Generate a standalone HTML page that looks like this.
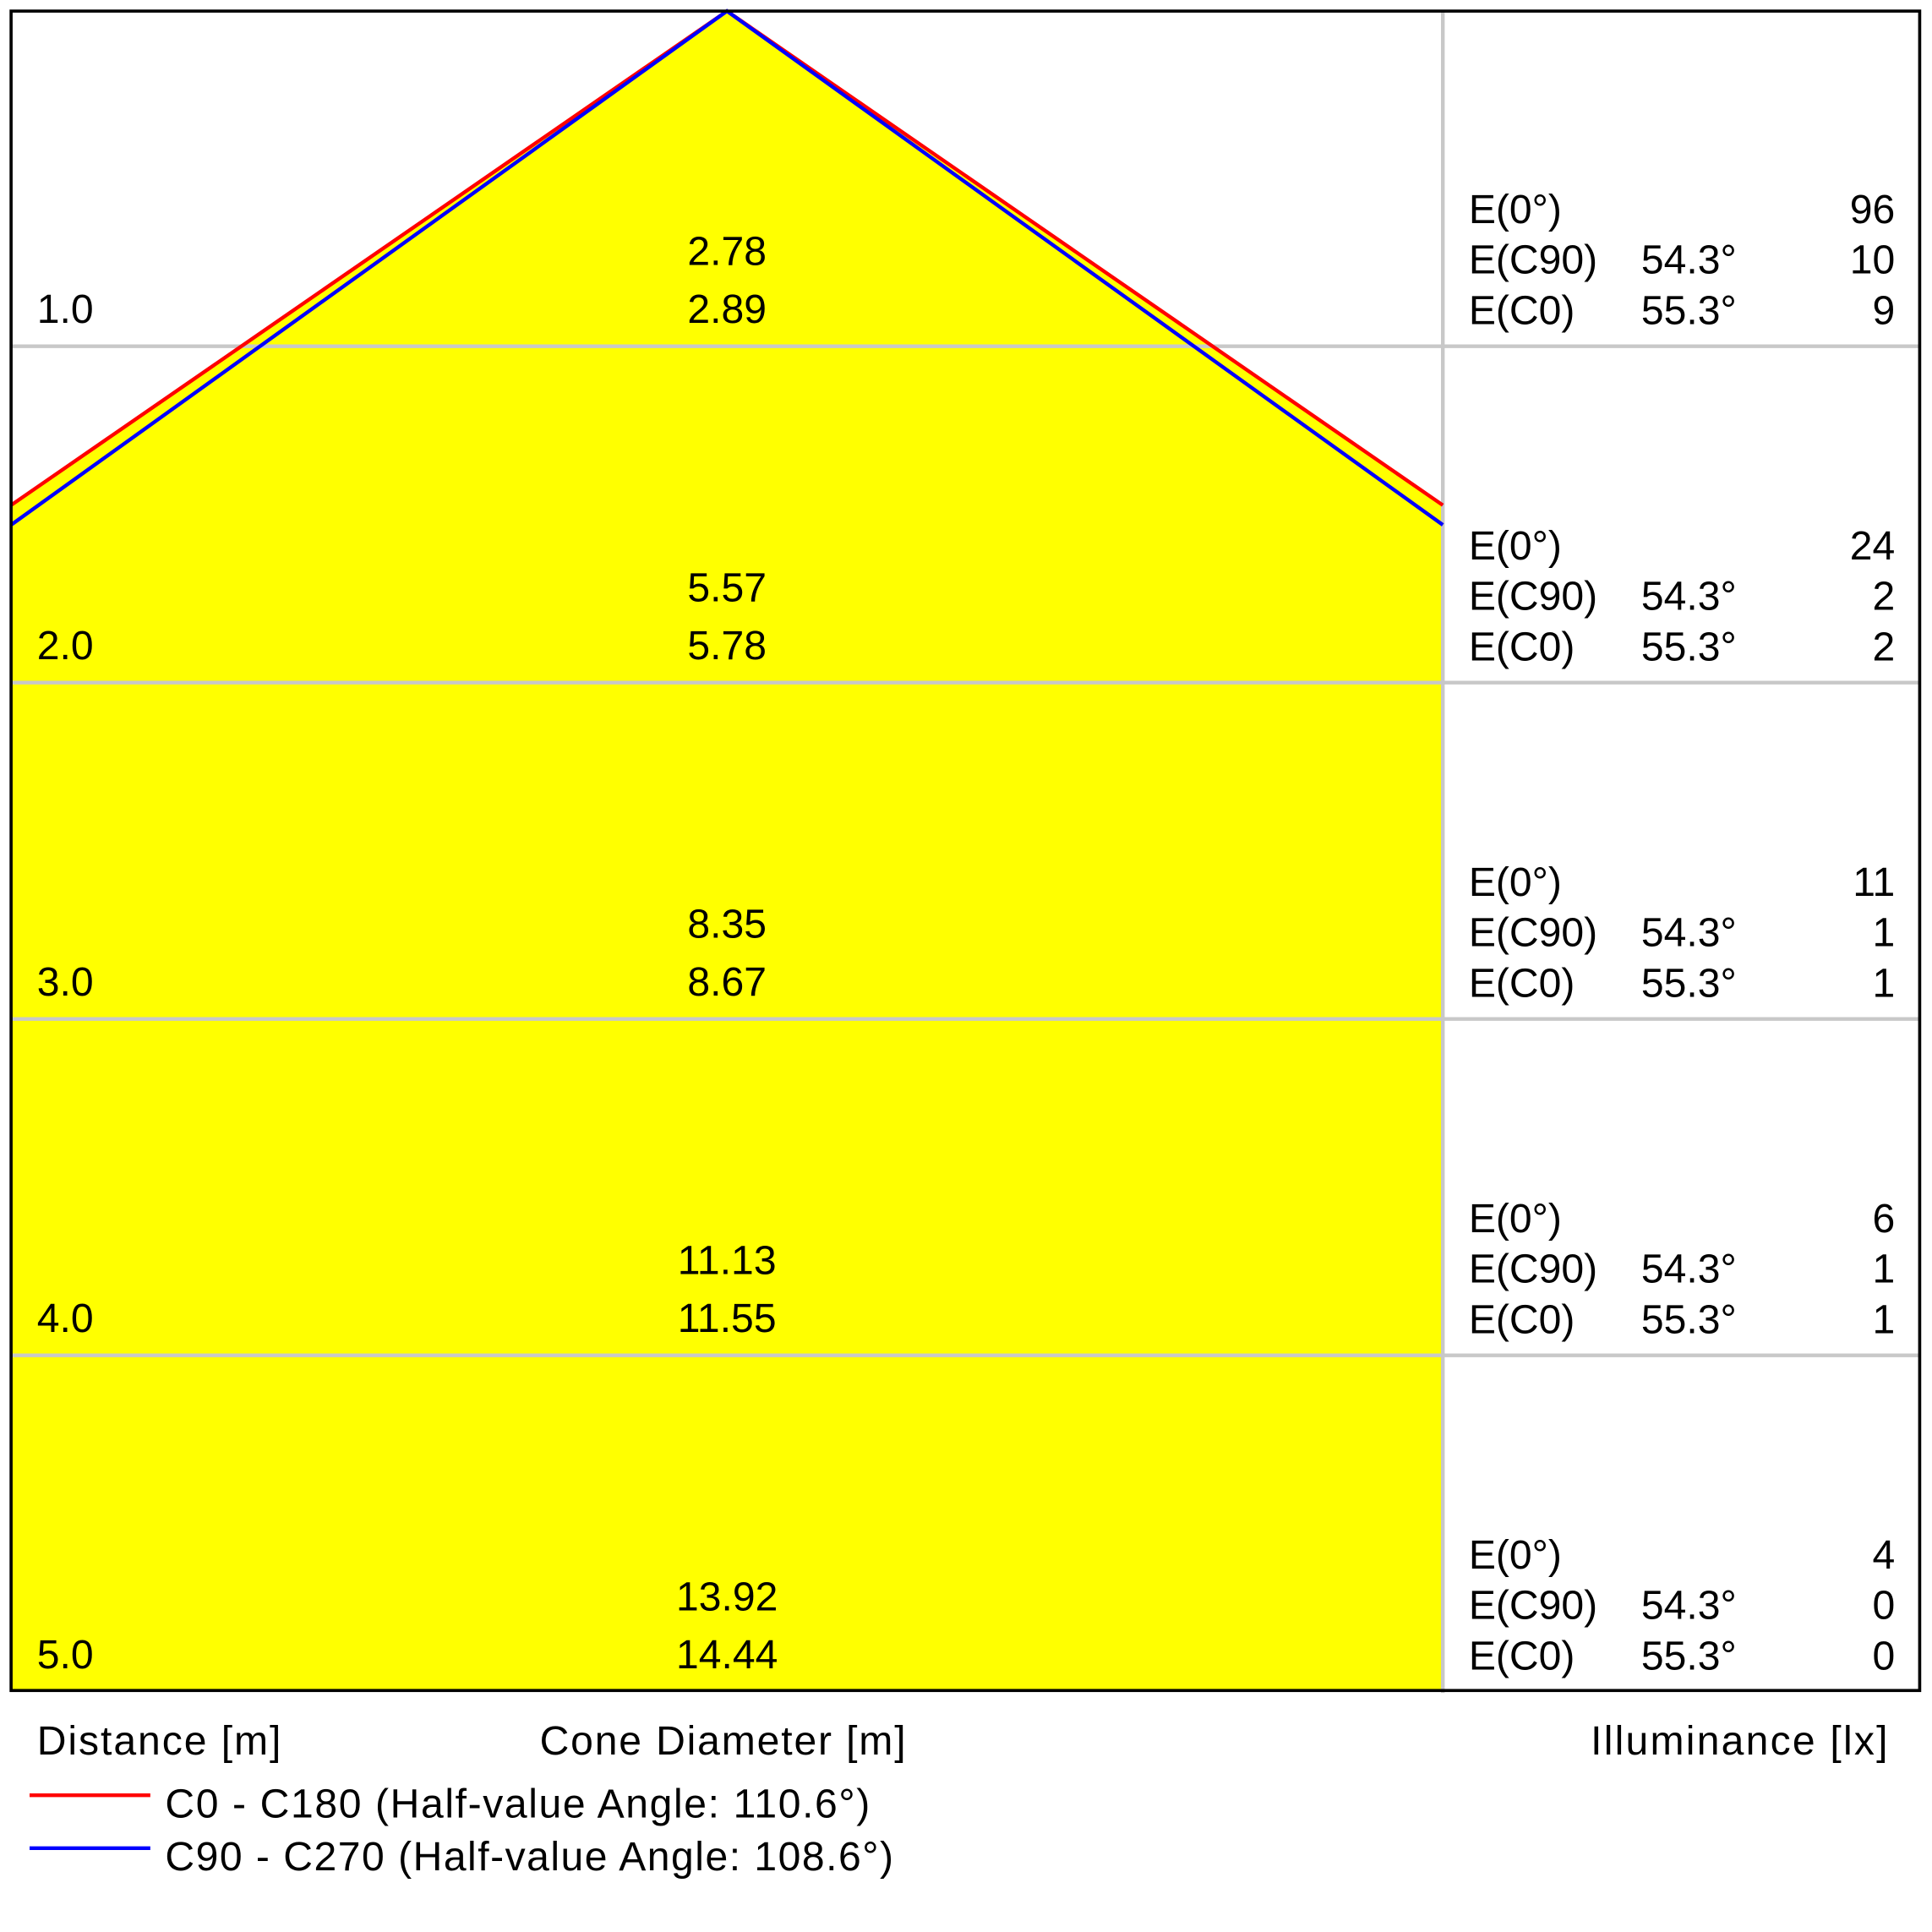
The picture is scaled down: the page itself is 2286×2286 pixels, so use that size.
<!DOCTYPE html>
<html><head><style>html,body{margin:0;padding:0;background:#fff}svg{display:block}text{font-family:"Liberation Sans","DejaVu Sans",sans-serif;font-size:33px;fill:#000}</style></head>
<body>
<svg width="2286" height="2286" viewBox="0 0 1568 1568" xmlns="http://www.w3.org/2000/svg">
<rect width="1568" height="1568" fill="#fff"/>
<polygon points="9,410 590,9 1171,410 1171,1372 9,1372" fill="#ffff00"/>
<g stroke="#c8c8c8" stroke-width="3">
<line x1="9" y1="281" x2="1558" y2="281"/><line x1="9" y1="554" x2="1558" y2="554"/>
<line x1="9" y1="827" x2="1558" y2="827"/><line x1="9" y1="1100" x2="1558" y2="1100"/>
<line x1="1171" y1="9" x2="1171" y2="1374"/>
</g>
<polyline points="9,410 590,9 1171,410" fill="none" stroke="#ff0000" stroke-width="3"/>
<polyline points="9,426 590,9 1171,426" fill="none" stroke="#0000ff" stroke-width="3"/>
<rect x="9" y="9" width="1549" height="1363" fill="none" stroke="#000" stroke-width="2.5"/>
<g>
<text x="30" y="262">1.0</text><text x="30" y="535">2.0</text><text x="30" y="808">3.0</text><text x="30" y="1081">4.0</text><text x="30" y="1354">5.0</text>
</g>
<g text-anchor="middle">
<text x="590" y="215">2.78</text><text x="590" y="262">2.89</text>
<text x="590" y="488">5.57</text><text x="590" y="535">5.78</text>
<text x="590" y="761">8.35</text><text x="590" y="808">8.67</text>
<text x="590" y="1034">11.13</text><text x="590" y="1081">11.55</text>
<text x="590" y="1307">13.92</text><text x="590" y="1354">14.44</text>
</g>
<g>
<text x="1192" y="181">E(0°)</text><text x="1192" y="222">E(C90)</text><text x="1192" y="263">E(C0)</text>
<text x="1332" y="222">54.3°</text><text x="1332" y="263">55.3°</text>
<text x="1192" y="454">E(0°)</text><text x="1192" y="495">E(C90)</text><text x="1192" y="536">E(C0)</text>
<text x="1332" y="495">54.3°</text><text x="1332" y="536">55.3°</text>
<text x="1192" y="727">E(0°)</text><text x="1192" y="768">E(C90)</text><text x="1192" y="809">E(C0)</text>
<text x="1332" y="768">54.3°</text><text x="1332" y="809">55.3°</text>
<text x="1192" y="1000">E(0°)</text><text x="1192" y="1041">E(C90)</text><text x="1192" y="1082">E(C0)</text>
<text x="1332" y="1041">54.3°</text><text x="1332" y="1082">55.3°</text>
<text x="1192" y="1273">E(0°)</text><text x="1192" y="1314">E(C90)</text><text x="1192" y="1355">E(C0)</text>
<text x="1332" y="1314">54.3°</text><text x="1332" y="1355">55.3°</text>
</g>
<g text-anchor="end">
<text x="1538" y="181">96</text><text x="1538" y="222">10</text><text x="1538" y="263">9</text>
<text x="1538" y="454">24</text><text x="1538" y="495">2</text><text x="1538" y="536">2</text>
<text x="1538" y="727">11</text><text x="1538" y="768">1</text><text x="1538" y="809">1</text>
<text x="1538" y="1000">6</text><text x="1538" y="1041">1</text><text x="1538" y="1082">1</text>
<text x="1538" y="1273">4</text><text x="1538" y="1314">0</text><text x="1538" y="1355">0</text>
</g>
<text x="30" y="1424" textLength="198">Distance [m]</text>
<text x="438" y="1424" textLength="297">Cone Diameter [m]</text>
<text x="1291" y="1424" textLength="241">Illuminance [lx]</text>
<line x1="24" y1="1457" x2="122" y2="1457" stroke="#ff0000" stroke-width="3"/>
<line x1="24" y1="1500" x2="122" y2="1500" stroke="#0000ff" stroke-width="3"/>
<text x="134" y="1475" textLength="572">C0 - C180 (Half-value Angle: 110.6°)</text>
<text x="134" y="1518" textLength="591">C90 - C270 (Half-value Angle: 108.6°)</text>
</svg>
</body></html>
